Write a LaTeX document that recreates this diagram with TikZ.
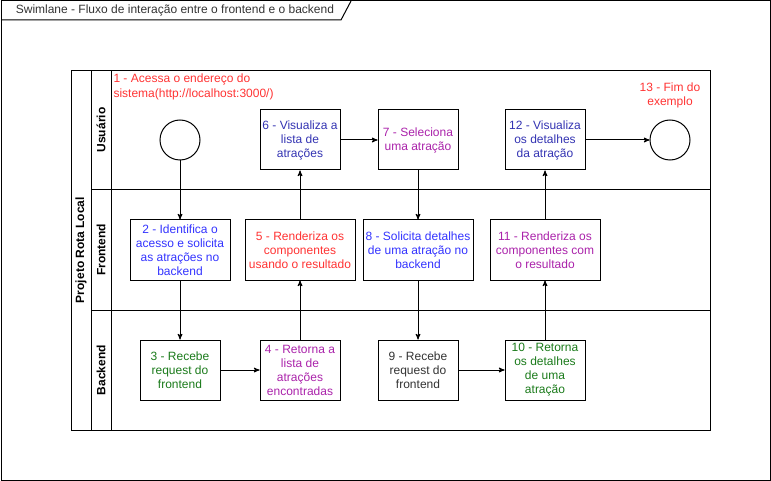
\documentclass[tikz,border=0pt]{standalone}
\usepackage{fontspec}
\setmainfont{Liberation Sans}
\usepackage{tikz}
\usetikzlibrary{arrows}
\usetikzlibrary{shapes}
\usetikzlibrary{positioning}

\definecolor{texred}{HTML}{FF3333}
\definecolor{texblue}{HTML}{3333FF}
\definecolor{texnavy}{HTML}{3333B2}
\definecolor{texpurple}{HTML}{AA22AA}
\definecolor{texgreen}{HTML}{1A7A1A}
\definecolor{texgray}{HTML}{333333}

\tikzset{
    passo/.style={draw, rectangle, minimum width=80pt, minimum height=60pt, align=center, inner sep=1pt},
    passolargo/.style={passo, minimum width=110pt},
    estado/.style={draw, circle, minimum size=40pt, inner sep=0pt},
    raia/.style={rotate=90, font=\fontsize{12}{14}\selectfont\bfseries},
    seta/.style={-stealth'}
}

\begin{document}
\begin{tikzpicture}[x=1pt, y=-1pt, line width=1pt, font=\fontsize{12}{14}\selectfont]
    \path[use as bounding box] (0, 0) rectangle (771, 481);

    % moldura e titulo
    \draw (1, 1) rectangle (770, 480);
    \draw (1, 20) -- (341, 20) -- (351, 1);
    \node[anchor=west, text=texgray] (titulo) at (12, 10.5) {Swimlane - Fluxo de interação entre o frontend e o backend};

    % pool e raias
    \draw (71, 71) rectangle (710, 430);
    \draw (91, 71) -- (91, 430);
    \draw (111, 71) -- (111, 430);
    \draw (91, 190) -- (710, 190);
    \draw (91, 310) -- (710, 310);
    \node[raia] (pool) at (81, 250) {Projeto Rota Local};
    \node[raia] (usuario) at (101, 130) {Usuário};
    \node[raia] (frontend) at (101, 250) {Frontend};
    \node[raia] (backend) at (101, 370) {Backend};

    % usuario
    \node[anchor=north west, align=left, text=texred, inner sep=1pt, font=\fontsize{12}{15}\selectfont] (rotulo1) at (112, 72.5) {1 - Acessa o endereço do\\sistema(http://localhost:3000/)};
    \node[estado] (inicio) at (180, 140) {};
    \node[passo, text=texnavy] (visualiza) at (300, 140) {6 - Visualiza a\\lista de\\atrações};
    \node[passo, text=texpurple] (seleciona) at (418, 140) {7 - Seleciona\\uma atração};
    \node[passo, text=texnavy] (detalhes) at (545, 140) {12 - Visualiza\\os detalhes\\da atração};
    \node[align=center, text=texred] (rotulo13) at (670, 95.5) {13 - Fim do\\exemplo};
    \node[estado] (fim) at (670, 140) {};

    % frontend
    \node[passo, minimum width=100pt, text=texblue] (identifica) at (180, 250) {2 - Identifica o\\acesso e solicita\\as atrações no\\backend};
    \node[passolargo, text=texred] (renderiza) at (300, 250) {5 - Renderiza os\\componentes\\usando o resultado};
    \node[passolargo, text=texblue] (solicita) at (418, 250) {8 - Solicita detalhes\\de uma atração no\\backend};
    \node[passolargo, text=texpurple] (renderiza2) at (545, 250) {11 - Renderiza os\\componentes com\\o resultado};

    % backend
    \node[passo, text=texgreen] (recebe) at (180, 370) {3 - Recebe\\request do\\frontend};
    \node[passo, text=texpurple] (retorna) at (300, 370) {4 - Retorna a\\lista de\\atrações\\encontradas};
    \node[passo, text=texgray] (recebe2) at (418, 370) {9 - Recebe\\request do\\frontend};
    \node[passo, text=texgreen] (retorna2) at (545, 370) {10 - Retorna\\os detalhes\\de uma\\atração};

    % fluxo
    \draw[seta] (inicio) -- (identifica);
    \draw[seta] (identifica) -- (recebe);
    \draw[seta] (recebe) -- (retorna);
    \draw[seta] (retorna) -- (renderiza);
    \draw[seta] (renderiza) -- (visualiza);
    \draw[seta] (visualiza) -- (seleciona);
    \draw[seta] (seleciona) -- (solicita);
    \draw[seta] (solicita) -- (recebe2);
    \draw[seta] (recebe2) -- (retorna2);
    \draw[seta] (retorna2) -- (renderiza2);
    \draw[seta] (renderiza2) -- (detalhes);
    \draw[seta] (detalhes) -- (fim);
\end{tikzpicture}
\end{document}
